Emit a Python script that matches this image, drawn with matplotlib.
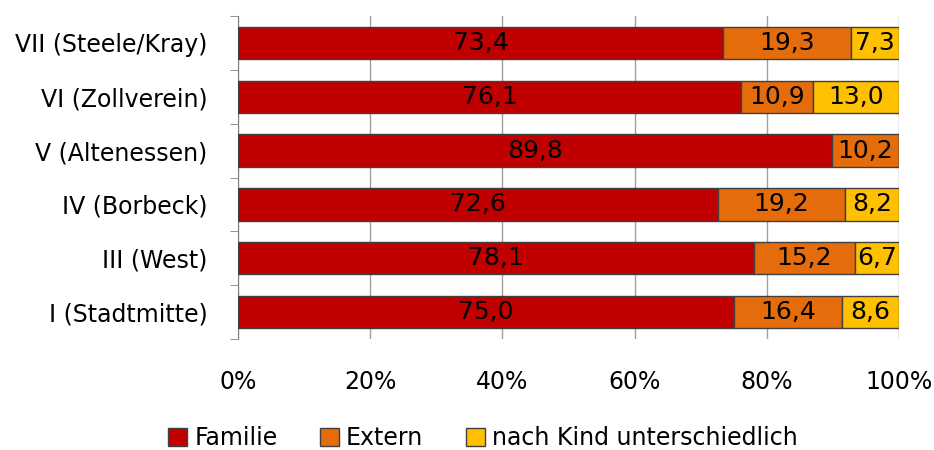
import matplotlib.pyplot as plt
import numpy as np

plt.rcParams['font.family'] = ['Liberation Sans Narrow', 'DejaVu Sans']

# data (bottom to top as drawn)
categories = ["I (Stadtmitte)", "III (West)", "IV (Borbeck)", "V (Altenessen)",
              "VI (Zollverein)", "VII (Steele/Kray)"]
familie = [75.0, 78.1, 72.6, 89.8, 76.1, 73.4]
extern = [16.4, 15.2, 19.2, 10.2, 10.9, 19.3]
nach_kind = [8.6, 6.7, 8.2, 0.0, 13.0, 7.3]
series_names = ["Familie", "Extern", "nach Kind unterschiedlich"]
colors = ["#C00000", "#E46C0A", "#FFC000"]

fig = plt.figure(figsize=(9.34, 4.5), dpi=100)
ax = fig.add_axes([238/934, 1-339/450, (899-238)/934, (339-16)/450])

y = np.arange(len(categories))
left = np.zeros(len(categories))
for vals, name, col in zip([familie, extern, nach_kind], series_names, colors):
    vals = np.array(vals)
    bars = ax.barh(y, vals, left=left, height=0.6, color=col,
                   edgecolor="#404040", linewidth=1.0, label=name, zorder=3)
    for b, v, l in zip(bars, vals, left):
        if v > 0:
            ax.text(l + v/2, b.get_y() + b.get_height()/2,
                    f"{v:.1f}".replace(".", ","), ha="center", va="center",
                    fontsize=18, color="black", zorder=4)
    left = left + vals

ax.set_xlim(0, 100)
ax.set_ylim(-0.5, len(categories) - 0.5)
ax.set_xticks(np.arange(0, 101, 20))
ax.set_xticklabels([f"{t}%" for t in range(0, 101, 20)], fontsize=17)
ax.set_yticks(y)
ax.set_yticklabels(categories, fontsize=17)
ax.tick_params(axis="y", length=0, pad=22)
ax.tick_params(axis="x", length=0, pad=22)
ax.set_yticks(np.arange(-0.5, len(categories), 1), minor=True)
ax.tick_params(axis="y", which="minor", length=6, color="#808080")
ax.xaxis.grid(True, color="#A0A0A0", linewidth=1, zorder=0)
for s in ["top", "right", "bottom"]:
    ax.spines[s].set_visible(False)
ax.spines["left"].set_color("#808080")

fig.legend(loc="center", bbox_to_anchor=(483/934, 1-438/450), ncol=3,
           frameon=False, fontsize=17, handlelength=0.8, handleheight=0.8,
           handletextpad=0.3, columnspacing=1.8)

fig.savefig("out.png", dpi=100)
